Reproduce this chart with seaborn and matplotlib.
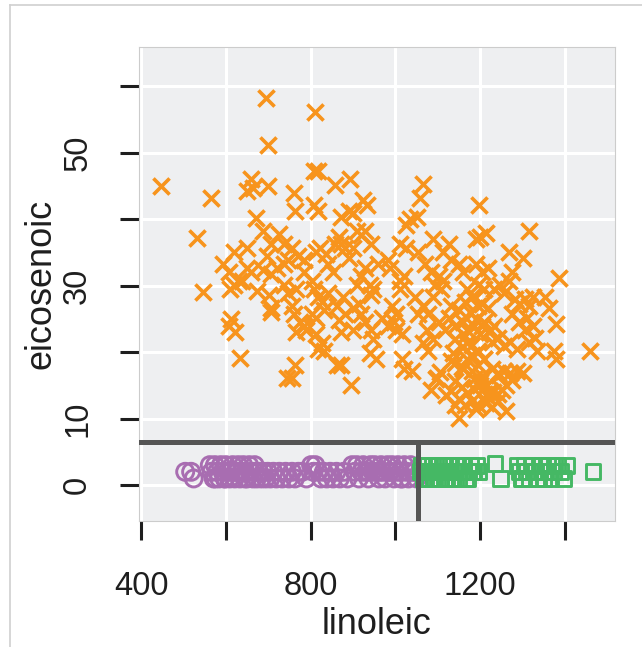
import numpy as np
import pandas as pd
import matplotlib
matplotlib.use("Agg")
import matplotlib.pyplot as plt
from matplotlib.lines import Line2D
import seaborn as sns

# --- values (linoleic, eicosenoic) ---
south_lin = [446, 694, 811, 700, 531, 564, 546, 618, 633, 612, 607, 621,
             660, 665, 650, 700, 670, 760, 764, 807, 817, 808, 817, 857,
             892, 924, 934, 871, 890, 900, 910, 919, 929, 943, 1064, 1059,
             1035, 1050, 1025, 1197, 1189, 1199, 1214, 1315, 1267, 1301, 1385, 1460,
             1378, 1373, 1378, 1363, 1354, 1151, 1262, 1083, 1098, 1016, 1021, 1040,
             762, 757, 743, 895, 861, 871, 939, 953,
             688, 707, 726, 688, 707, 721, 736, 746, 649, 659, 639, 610, 620, 630,
             673, 702, 707, 707, 736, 746, 765, 756, 770, 784, 813, 822, 837,
             808, 817, 827, 842, 803, 813, 832, 760, 774, 784, 765, 789,
             813, 827, 818, 832, 784, 803, 852, 842, 857, 871, 881, 866, 900, 890,
             861, 876, 866, 881, 910, 919, 929, 939, 948, 943, 919, 929, 943, 948,
             914, 900, 958, 982, 987, 968, 982, 997, 992, 1001, 1011, 1021, 1011,
             1011, 1025, 1054, 1069, 1001, 1016, 1045, 1064, 1054, 1078,
             1088, 1112, 1127, 1083, 1102, 1112, 1093, 1107, 1131, 1151, 1160,
             1074, 1088, 1064, 1078, 1102, 1117, 1127, 1141, 1131, 1151, 1165,
             1189, 1204, 1218, 1194, 1209, 1170, 1180, 1194, 1204, 1218,
             1233, 1247, 1257, 1267, 1276, 1281, 1291, 1306, 1315, 1325,
             1276, 1291, 1310, 1325, 1306, 1160, 1170, 1185, 1199, 1209, 1223, 1233,
             1141, 1156, 1170, 1180, 1194, 1209, 1228, 1242, 1257, 1271, 1286,
             1315, 1330, 1335, 1141, 1156, 1170, 1180, 1194, 1204,
             1228, 1242, 1257, 1271, 1286, 1301, 1276, 1141, 1156, 1170, 1185, 1199,
             1214, 1223, 1180, 1194, 1214, 1228, 1242, 1252, 1242, 1131, 1136, 1131,
             592, 607, 649, 698, 736, 755, 871, 900, 1088,
             1175, 1190, 1205, 1220, 1165, 1180, 1195, 1210, 1160, 1185, 1200, 1230,
             1150, 1165, 1190, 1215, 1245, 1260, 1120, 1140, 1106, 1095]
south_eic = [45.0, 58.2, 56.1, 51.1, 37.1, 43.2, 29.1, 35.1, 19.1, 25.0, 24.0, 23.0,
             46.0, 44.7, 44.3, 45.0, 40.2, 44.0, 41.3, 47.2, 47.2, 42.2, 41.3, 45.2,
             46.1, 42.9, 42.2, 40.4, 41.3, 41.0, 38.2, 37.6, 38.2, 36.3, 45.3, 43.2,
             40.1, 40.4, 39.1, 42.2, 37.0, 37.3, 37.9, 38.2, 35.1, 34.2, 31.1, 20.1,
             18.9, 20.2, 24.2, 26.7, 28.3, 10.1, 11.1, 14.3, 16.1, 18.9, 17.4, 17.1,
             18.0, 16.1, 16.1, 15.1, 18.0, 18.0, 19.9, 18.9,
             38.2, 36.3, 37.8, 32.3, 31.7, 32.6, 33.2, 33.9, 32.6, 32.0, 30.7, 29.5, 30.1, 30.7,
             29.2, 28.6, 26.7, 26.1, 30.1, 28.9, 29.5, 35.7, 34.5, 33.9, 35.1, 35.7, 34.8,
             29.5, 28.3, 27.6, 28.9, 25.8, 25.2, 26.4, 25.8, 24.5, 23.9, 23.0, 23.3,
             22.7, 21.4, 20.5, 20.2, 32.0, 30.7, 32.0, 33.2, 36.3, 36.3, 35.7, 37.3, 35.7, 34.2,
             27.0, 28.3, 24.8, 25.8, 30.1, 31.4, 32.6, 30.1, 29.5, 28.6, 25.8, 24.5, 23.3, 22.0,
             27.3, 26.7, 33.2, 33.9, 32.6, 25.2, 23.9, 24.5, 27.0, 25.8, 30.7, 31.4, 29.5,
             36.3, 35.7, 35.0, 33.2, 23.3, 22.7, 28.3, 27.0, 25.8, 25.8,
             37.0, 35.1, 36.3, 32.0, 31.4, 30.7, 30.1, 29.5, 33.9, 33.2, 32.0,
             23.3, 22.0, 21.4, 20.2, 24.5, 23.3, 25.2, 23.9, 27.0, 26.4, 27.6,
             33.2, 32.0, 32.6, 30.1, 29.5, 29.5, 28.3, 27.0, 27.3, 26.7,
             29.5, 30.1, 28.9, 30.7, 32.0, 28.0, 27.3, 28.0, 27.0, 28.3,
             25.8, 24.5, 25.2, 23.9, 23.3, 24.5, 23.3, 23.9, 22.7, 24.5, 23.3, 23.9,
             22.0, 20.8, 21.4, 19.5, 20.2, 18.9, 21.6, 22.2, 20.9, 21.6, 20.4,
             21.6, 22.2, 20.2, 18.3, 17.7, 18.9, 17.1, 18.0, 16.4,
             17.4, 16.8, 17.1, 16.8, 17.1, 16.8, 15.8, 15.7, 14.8, 13.9, 14.5, 15.1,
             13.6, 14.2, 12.6, 12.0, 12.3, 11.7, 12.6, 14.3, 13.7, 18.6, 19.9, 14.2,
             33.2, 32.0, 35.7, 34.5, 36.3, 27.0, 23.0, 23.3, 28.3,
             26.0, 25.0, 24.0, 23.0, 22.5, 21.0, 20.0, 19.0, 17.5, 16.0, 15.5, 14.0,
             13.0, 12.0, 11.5, 15.0, 16.5, 15.0, 13.5, 12.0, 17.0, 16.0]

north_lin = [504, 524, 518, 562, 566, 571, 574, 579, 584, 588, 592, 597, 600, 604,
             609, 612, 616, 621, 626, 629, 633, 637, 641, 646, 650, 655, 659, 664,
             668, 673, 678, 684, 689, 694, 699, 705, 712, 719, 726, 733, 741, 749,
             756, 763, 771, 780, 790, 801, 806, 811, 818, 824, 831, 838, 846, 853,
             861, 869, 878, 887, 898, 904, 909, 914, 919, 924, 930, 936, 941, 946,
             951, 956, 961, 966, 971, 976, 981, 986, 992, 997, 1001, 1006, 1011,
             1016, 1021, 1026, 1031, 1036, 1041, 1046, 1050, 575, 598, 622, 645,
             668, 935, 962, 988, 1013]
north_eic = [2, 1, 2, 3, 2, 1, 3, 2, 1, 3, 2, 1, 3, 2,
             1, 2, 3, 1, 2, 3, 1, 2, 3, 2, 1, 3, 2, 1,
             2, 1, 2, 1, 2, 1, 2, 1, 2, 1, 2, 1, 2, 1,
             2, 1, 2, 2, 1, 3, 2, 3, 2, 1, 2, 1, 2, 1,
             2, 1, 2, 1, 3, 2, 3, 1, 2, 3, 2, 1, 3, 2,
             3, 2, 1, 3, 2, 1, 3, 2, 3, 1, 2, 3, 2,
             1, 3, 2, 1, 3, 2, 2, 1, 1, 1, 2, 1,
             3, 2, 2, 2, 1]

sard_lin = [1058, 1062, 1066, 1070, 1075, 1080, 1084, 1088, 1092, 1097, 1101, 1106,
            1110, 1115, 1120, 1124, 1130, 1135, 1140, 1146, 1150, 1155, 1160, 1166,
            1172, 1178, 1185, 1192, 1196, 1065, 1078, 1090, 1103, 1117, 1128, 1142,
            1158, 1170, 1183, 1235, 1247, 1287, 1292, 1298, 1304, 1310, 1316, 1322,
            1330, 1337, 1344, 1352, 1360, 1367, 1374, 1382, 1390, 1397, 1403, 1300,
            1325, 1350, 1375, 1466]
sard_eic = [2, 3, 1, 2, 3, 1, 2, 3, 1, 2, 3, 1,
            2, 3, 1, 2, 3, 1, 2, 3, 1, 2, 3, 1,
            2, 3, 2, 3, 2, 1, 2, 1, 2, 1, 2, 1,
            2, 1, 2, 3.3, 1.0, 3, 2, 1, 3, 2, 1, 3,
            2, 1, 3, 2, 3, 1, 2, 3, 2, 1, 3, 1,
            2, 1, 3, 2]

orange = "#F7941D"
purple = "#A86DB1"
green = "#45B864"
ink = "#1E1E1E"

plt.rcParams["font.family"] = ["Liberation Sans", "DejaVu Sans"]

fig = plt.figure(figsize=(6.42, 6.47), dpi=100)
ax = fig.add_axes([139 / 642, 1 - 521 / 647, 476 / 642, 474 / 647])
ax.set_facecolor("#EEEFF1")

sns.scatterplot(x=south_lin, y=south_eic, marker="x", s=135, color=orange,
                linewidth=2.6, ax=ax, zorder=3)
sns.scatterplot(x=north_lin, y=north_eic, marker="o", s=150, facecolor="none",
                edgecolor=purple, linewidth=2.1, ax=ax, zorder=3)
sns.scatterplot(x=sard_lin, y=sard_eic, marker="s", s=115, facecolor="none",
                edgecolor=green, linewidth=2.1, ax=ax, zorder=3)

ax.set_xlim(395, 1518)
ax.set_ylim(-5.4, 65.9)

# tree split lines
ax.axhline(6.5, color="#555555", lw=3.6, zorder=4)
ax.plot([1053.5, 1053.5], [-5.4, 6.5], color="#555555", lw=3.6, zorder=4,
        solid_capstyle="butt")

ax.set_xticks([400, 600, 800, 1000, 1200, 1400])
ax.set_xticklabels(["400", "", "800", "", "1200", ""])
ax.set_yticks([0, 10, 20, 30, 40, 50, 60])
ax.set_yticklabels(["0", "10", "", "30", "", "50", ""], rotation=90, va="center")
ax.grid(True, color="white", lw=2.2)
ax.set_axisbelow(True)
ax.tick_params(axis="both", length=14, width=2.2, color=ink,
               labelsize=23.5, labelcolor=ink)
ax.tick_params(axis="y", pad=19)
ax.tick_params(axis="x", pad=22)
for sp in ax.spines.values():
    sp.set_color("#CCCCCC")
    sp.set_linewidth(0.8)

ax.set_xlabel("linoleic", fontsize=26, color=ink)
ax.set_ylabel("eicosenoic", fontsize=26, color=ink)
ax.xaxis.set_label_coords(0.5, -0.182)
ax.yaxis.set_label_coords(-0.17, 0.5)

# light frame of the outer panel
fig.add_artist(Line2D([10 / 642, 10 / 642], [0, 1 - 5 / 647], color="#D0D0D0", lw=1.2))
fig.add_artist(Line2D([10 / 642, 1], [1 - 5 / 647, 1 - 5 / 647], color="#D0D0D0", lw=1.2))

fig.savefig("out.png", dpi=100)
